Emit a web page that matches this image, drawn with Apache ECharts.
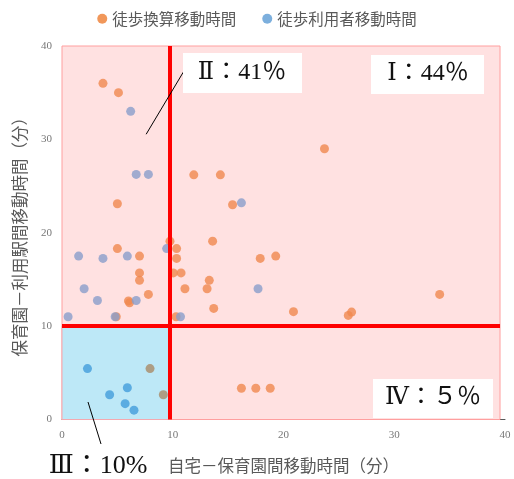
<!DOCTYPE html>
<html>
<head>
<meta charset="utf-8">
<script src="https://cdn.jsdelivr.net/npm/echarts@6/dist/echarts.min.js"></script>
<style>
  html, body { margin: 0; padding: 0; background: #fff; }
  #main { width: 514px; height: 479px; }
</style>
</head>
<body>
<div id="main"></div>
<script>
// series names
const seriesNames = ['徒歩換算移動時間', '徒歩利用者移動時間'];

// 徒歩換算移動時間 [x, y]
const walkCalc = [
    [3.7, 36.0], [5.1, 35.0], [11.9, 26.2], [14.3, 26.2], [23.7, 29.0],
    [15.4, 23.0], [5.0, 23.1], [5.0, 18.3], [7.0, 17.5], [7.0, 15.7],
    [7.0, 14.9], [7.8, 13.4], [6.0, 12.7], [6.1, 12.5], [4.9, 11.0],
    [9.75, 19.1], [10.35, 18.3], [10.35, 17.25], [10.05, 15.7], [10.75, 15.7],
    [11.1, 14.0], [10.3, 11.0], [13.6, 19.1], [17.9, 17.25], [19.3, 17.5],
    [13.3, 14.9], [13.1, 14.0], [13.7, 11.9], [20.9, 11.55], [25.85, 11.15],
    [26.15, 11.5], [34.1, 13.4], [16.2, 3.35], [17.5, 3.35], [18.8, 3.35],
    [7.95, 5.45], [9.15, 2.65]
];

// 徒歩利用者移動時間 [x, y]
const walkUser = [
    [6.2, 33.0], [6.7, 26.25], [7.8, 26.25], [16.2, 23.2], [1.5, 17.5],
    [3.7, 17.25], [5.9, 17.5], [9.45, 18.3], [2.0, 14.0], [3.2, 12.75],
    [6.7, 12.75], [0.55, 11.0], [4.8, 11.0], [10.7, 11.0], [17.7, 14.0],
    [2.3, 5.45], [4.3, 2.65], [5.9, 3.4], [5.7, 1.7], [6.5, 1.0]
];

// axis ticks
const axisMin = 0, axisMax = 40, axisStep = 10;

// quadrant split lines
const splitX = 9.7, splitY = 10;

// quadrant labels
const quadLabels = ['Ⅰ：44％', 'Ⅱ：41％', 'Ⅲ：10%', 'Ⅳ：５％'];

const inLow = (v) => v[0] < splitX && v[1] < splitY;

var chartDom = document.getElementById('main');
var myChart = echarts.init(chartDom);

var serif = "'Liberation Serif', 'DejaVu Serif', 'Noto Sans CJK JP', serif";
var sans = "'Noto Sans CJK JP', sans-serif";

var option = {
    animation: false,
    color: ['#ED7D31', '#5B9BD5'],
    legend: {
        top: 6,
        left: 'center',
        icon: 'circle',
        itemWidth: 10,
        itemHeight: 10,
        itemGap: 26,
        data: [
            { name: seriesNames[0], itemStyle: { color: '#ED7D31' } },
            { name: seriesNames[1], itemStyle: { color: '#5B9BD5' } }
        ],
        textStyle: { fontSize: 15.5, color: '#595959', fontFamily: sans }
    },
    grid: { left: 62, right: 9, top: 46, bottom: 52 },
    xAxis: {
        type: 'value',
        min: axisMin, max: axisMax, interval: axisStep,
        name: '自宅－保育園間移動時間（分）',
        nameLocation: 'middle',
        nameGap: 38,
        nameTextStyle: { fontSize: 16.5, color: '#595959', fontFamily: sans },
        axisLine: { show: true, lineStyle: { color: '#595959', width: 1 } },
        axisTick: { show: false },
        splitLine: { show: false },
        axisLabel: { color: '#777', fontSize: 11, fontFamily: serif, margin: 10 }
    },
    yAxis: {
        type: 'value',
        min: axisMin, max: axisMax, interval: axisStep,
        name: '保育園－利用駅間移動時間（分）',
        nameLocation: 'middle',
        nameGap: 34,
        nameTextStyle: { fontSize: 16.5, color: '#595959', fontFamily: sans },
        axisLine: { show: false },
        axisTick: { show: false },
        splitLine: { show: false },
        axisLabel: { color: '#777', fontSize: 11, fontFamily: serif, margin: 10 }
    },
    series: [
        {
            // background quadrants, red split lines, callout line
            type: 'scatter',
            data: [],
            silent: true,
            z: 1,
            markArea: {
                silent: true,
                data: [
                    [{ coord: [0, 40], itemStyle: { color: '#FFE1E1', borderColor: '#FF9F9F', borderWidth: 1 } },
                     { coord: [39.55, 0] }],
                    [{ coord: [0, splitY], itemStyle: { color: '#BDE8F7', borderColor: '#F4A9B0', borderWidth: 1 } },
                     { coord: [splitX, 0] }]
                ]
            },
            markLine: {
                silent: true,
                symbol: 'none',
                label: { show: false },
                lineStyle: { color: '#FF0000', width: 4, type: 'solid' },
                data: [
                    [{ coord: [splitX, 40] }, { coord: [splitX, 0] }],
                    [{ coord: [0, splitY] }, { coord: [39.55, splitY] }],
                    [{ coord: [10.95, 37.2], lineStyle: { color: '#000', width: 1 } },
                     { coord: [7.6, 30.55] }]
                ]
            }
        },
        {
            name: seriesNames[0],
            type: 'scatter',
            z: 3,
            symbolSize: 9,
            itemStyle: {
                color: function (p) { return inLow(p.value) ? '#A98A66' : '#F0884F'; }
            },
            data: walkCalc
        },
        {
            name: seriesNames[1],
            type: 'scatter',
            z: 3,
            symbolSize: 9,
            itemStyle: {
                color: function (p) { return inLow(p.value) ? '#429CDB' : '#8A9ECB'; }
            },
            data: walkUser
        }
    ],
    graphic: [
        { type: 'rect', z: 10, shape: { x: 183, y: 53, width: 119, height: 40 }, style: { fill: '#fff' } },
        { type: 'text', z: 11, x: 242, y: 73, style: { text: quadLabels[1], fill: '#111', font: '24px ' + serif, align: 'center', verticalAlign: 'middle' } },
        { type: 'rect', z: 10, shape: { x: 371, y: 55, width: 113, height: 39 }, style: { fill: '#fff' } },
        { type: 'text', z: 11, x: 428, y: 74, style: { text: quadLabels[0], fill: '#111', font: '24px ' + serif, align: 'center', verticalAlign: 'middle' } },
        { type: 'rect', z: 10, shape: { x: 373, y: 379, width: 120, height: 39 }, style: { fill: '#fff' } },
        { type: 'text', z: 11, x: 433, y: 398, style: { text: quadLabels[3], fill: '#111', font: '24px ' + serif, align: 'center', verticalAlign: 'middle' } },
        { type: 'line', z: 11, shape: { x1: 88, y1: 402, x2: 101, y2: 444 }, style: { stroke: '#000', lineWidth: 1 } },
        { type: 'text', z: 11, x: 98, y: 466, style: { text: quadLabels[2], fill: '#111', font: '26px ' + serif, align: 'center', verticalAlign: 'middle' } }
    ]
};

myChart.setOption(option);
</script>
</body>
</html>
